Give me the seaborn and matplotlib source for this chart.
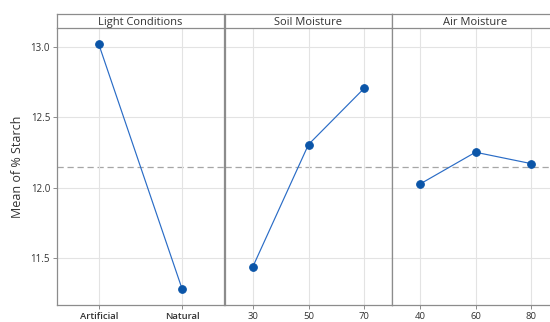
import numpy as np
import pandas as pd
import matplotlib
matplotlib.use("Agg")
import matplotlib.pyplot as plt
import seaborn as sns

factors = ["Light Conditions", "Soil Moisture", "Air Moisture"]
light_levels = ["Artificial", "Natural"]
light_means = [13.02, 11.275]
soil_levels = ["30", "50", "70"]
soil_means = [11.436, 12.306, 12.706]
air_levels = ["40", "60", "80"]
air_means = [12.024, 12.251, 12.170]
y_ticks = [11.5, 12.0, 12.5, 13.0]

sns.set_theme(style="white")
plt.rcParams["font.family"] = ["Open Sans", "DejaVu Sans"]

levels = [light_levels, soil_levels, air_levels]
means = [light_means, soil_means, air_means]
grand_mean = np.mean(light_means)

fig = plt.figure(figsize=(5.5, 3.22), dpi=100)
W, H = 550, 322
panel_w = 167
lefts = [57, 225, 392]
top, strip_h, bottom = 14, 14, 305
border = "#8c8c8c"
line_c = "#2a6cc6"
mark_c = "#0b55a8"

for i, (name, lv, mv) in enumerate(zip(factors, levels, means)):
    x0 = lefts[i] / W
    w = panel_w / W
    ax = fig.add_axes([x0, 1 - bottom / H, w, (bottom - top - strip_h) / H])
    sax = fig.add_axes([x0, 1 - (top + strip_h) / H, w, strip_h / H])
    df = pd.DataFrame({"level": lv, "mean": mv, "pos": np.arange(len(lv))})
    sns.lineplot(data=df, x="pos", y="mean", ax=ax, color=line_c, lw=0.85,
                 marker="o", markersize=5.5, markerfacecolor=mark_c,
                 markeredgecolor=mark_c, sort=False)
    ax.axhline(grand_mean, color="#a6a6a6", ls=(0, (5, 3)), lw=0.9, zorder=0)
    ax.set_xlim(-0.5, len(lv) - 0.5)
    ax.set_ylim(11.164, 13.135)
    ax.set_xticks(np.arange(len(lv)))
    ax.set_xticklabels(lv, fontsize=6.8, fontweight="semibold" if i == 0 else "normal",
                       color="#333333")
    ax.set_yticks(y_ticks)
    ax.grid(True, color="#e3e3e3", lw=0.8)
    ax.set_axisbelow(True)
    ax.set_xlabel("")
    ax.tick_params(axis="both", length=3, width=0.7, color=border,
                   labelsize=7, labelcolor="#333333")
    ax.tick_params(axis="x", pad=2, bottom=True, labelsize=6.8)
    if i == 0:
        ax.set_yticklabels([f"{t:.1f}" for t in y_ticks])
        ax.tick_params(axis="y", left=True, pad=2)
        ax.set_ylabel("Mean of % Starch", fontsize=9, color="#333333", labelpad=5)
    else:
        ax.set_yticklabels([])
        ax.tick_params(axis="y", left=False)
        ax.set_ylabel("")
    for sp in ax.spines.values():
        sp.set_color(border)
        sp.set_linewidth(0.9)
    ax.spines["top"].set_visible(False)

    sax.set_xticks([])
    sax.set_yticks([])
    sax.set_facecolor("white")
    for sp in sax.spines.values():
        sp.set_color(border)
        sp.set_linewidth(0.9)
    sax.text(0.5, 0.42, name, ha="center", va="center", fontsize=8,
             color="#333333", transform=sax.transAxes)

fig.savefig("out.png", dpi=100)
